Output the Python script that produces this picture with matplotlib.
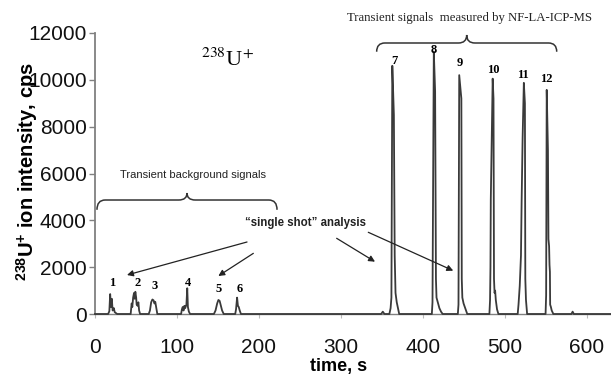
import matplotlib
matplotlib.use('Agg')
import matplotlib.pyplot as plt
from matplotlib.path import Path
from matplotlib.patches import PathPatch

# Sinal transiente de 238U+ (tempo em s, intensidade em cps)
tempo = [
    0, 16, 17.5, 18.5, 19.5, 20.5, 21.5, 23, 24, 27,
    43.5, 44.7, 45.5, 46.5, 47.6, 48.4, 49.2, 50.2, 50.8, 52, 52.9, 53.8, 55,
    65.5, 67, 68.5, 70, 71.5, 72.5, 73.5, 74.5, 76,
    105, 106, 107, 108, 109, 110, 111.5, 112.5, 113.3, 114.5, 116,
    145, 147, 149, 150.5, 152, 153.5, 155, 157,
    171, 172, 173.3, 174.3, 175.3, 176.5, 178,
    349, 351, 353,
    359, 360.5, 361.5, 362.6, 364.5, 365.5, 366.5, 368, 369.5, 371,
    410.8, 411.6, 413.2, 414.8, 415.8, 416.5, 418, 420, 422, 424,
    442.5, 443.3, 444.2, 446.8, 447.3, 448, 449.5, 451, 452.5, 454,
    481, 481.8, 482.3, 482.7, 483.9, 485, 486, 486.6, 487.3, 488, 488.8, 490.3, 492,
    515.5, 516.5, 518, 519.5, 520.3, 521.5, 523, 524.3, 524.8, 525.6, 527,
    549.5, 550.2, 550.9, 552.4, 553, 553.8, 554.3, 554.8, 555.1, 556, 557, 559,
    581, 582.5, 584,
    629,
]
intensidade = [
    0, 0, 120, 850, 300, 650, 150, 250, 80, 0,
    0, 450, 300, 700, 900, 650, 950, 700, 400, 350, 500, 150, 0,
    0, 150, 500, 620, 580, 450, 520, 300, 0,
    0, 200, 300, 150, 350, 250, 400, 1100, 300, 100, 0,
    0, 150, 450, 600, 560, 350, 150, 0,
    0, 200, 700, 350, 300, 150, 0,
    0, 100, 0,
    0, 250, 700, 10600, 8500, 2500, 900, 500, 250, 0,
    0, 500, 11200, 9500, 1500, 700, 500, 250, 100, 0,
    0, 400, 10200, 9200, 1500, 700, 450, 300, 150, 0,
    0, 600, 2000, 4900, 7700, 10050, 9200, 1500, 900, 1000, 600, 200, 0,
    0, 400, 1200, 2500, 4800, 7500, 9870, 9000, 1500, 600, 0,
    0, 800, 9570, 7000, 3200, 2900, 2100, 1800, 400, 300, 150, 0,
    0, 100, 0,
    0,
]

# Numeros dos picos e posicao dos rotulos
rotulos = ['1', '2', '3', '4', '5', '6', '7', '8', '9', '10', '11', '12']
rot_x = [20.4, 51.5, 73.2, 113, 150.4, 176, 364.6, 413.4, 445.1, 485.8, 522.3, 550.9]
rot_y = [1337, 1309, 1196, 1309, 1054, 1054, 10817, 11272, 10706, 10420, 10206, 10020]

xticks = [0, 100, 200, 300, 400, 500, 600]
yticks = [0, 2000, 4000, 6000, 8000, 10000, 12000]

plt.rcParams['font.family'] = ['Liberation Sans', 'DejaVu Sans']
plt.rcParams['mathtext.fontset'] = 'custom'
plt.rcParams['mathtext.rm'] = 'Liberation Sans:bold'
plt.rcParams['mathtext.bf'] = 'Liberation Sans:bold'
plt.rcParams['mathtext.it'] = 'Liberation Sans:bold'

COR = '#3a3a3a'
SERIF = 'Liberation Serif'


def chave(ax, x0, x1, y_linha, y_ponta, y_fim, r):
    # desenha uma chave horizontal "{" deitada
    xm = (x0 + x1) / 2
    verts = [
        (x0, y_fim), (x0, y_linha), (x0 + r, y_linha),
        (xm - r, y_linha),
        (xm, y_linha), (xm, y_ponta),
        (xm, y_linha), (xm + r, y_linha),
        (x1 - r, y_linha),
        (x1, y_linha), (x1, y_fim),
    ]
    codes = [Path.MOVETO, Path.CURVE3, Path.CURVE3, Path.LINETO,
             Path.CURVE3, Path.CURVE3, Path.CURVE3, Path.CURVE3,
             Path.LINETO, Path.CURVE3, Path.CURVE3]
    ax.add_patch(PathPatch(Path(verts, codes), fill=False, color='#333333',
                           lw=1.1, clip_on=False))


fig = plt.figure(figsize=(6.11, 3.82), dpi=100)
ax = fig.add_axes([95 / 611, 1 - 314 / 382, 516 / 611, 281 / 382])

ax.plot(tempo, intensidade, color=COR, lw=1.3, clip_on=False, zorder=3)

ax.set_xlim(0, 629.3)
ax.set_ylim(0, 12000)
ax.set_xticks(xticks)
ax.set_yticks(yticks)
for lado in ['top', 'right']:
    ax.spines[lado].set_visible(False)
ax.spines['left'].set_color('#808080')
ax.spines['left'].set_linewidth(1.3)
ax.spines['bottom'].set_color('#808080')
ax.spines['bottom'].set_linewidth(1.0)
ax.tick_params(axis='y', direction='out', length=4, width=1, color='#808080',
               labelsize=15, pad=2, labelcolor='#111111')
ax.tick_params(axis='x', direction='out', length=3, width=0.8, color='#bbbbbb',
               labelsize=15, pad=14, labelcolor='#111111')

fig.text(27 / 611, 1 - 172 / 382, r'$^{238}$U$^{+}$ ion intensity, cps',
         rotation=90, ha='center', va='center', fontsize=14.5,
         fontweight='bold', math_fontfamily='custom')
fig.text(339 / 611, 1 - 366 / 382, 'time, s', ha='center', va='center',
         fontsize=13, fontweight='bold')

# rotulo do isotopo
ax.text(162, 10850, r'$^{238}$U$^{+}$', ha='center', va='center',
        fontsize=16, family=SERIF, math_fontfamily='stix')

# numeros dos picos
for r, x, y in zip(rotulos, rot_x, rot_y):
    ax.text(x, y, r, ha='center', va='center', fontsize=9,
            fontweight='bold', family=SERIF)

# chaves e textos
ax.text(119.5, 5936, 'Transient background signals', ha='center',
        va='center', fontsize=8, color='#222222')
chave(ax, 2.4, 222, 4868, 5167, 4450, 10)

ax.text(457, 12628, 'Transient signals  measured by NF-LA-ICP-MS',
        ha='center', va='center', fontsize=9.2, family=SERIF, color='#222222')
chave(ax, 343.5, 563.1, 11573, 11915, 11200, 10)

ax.text(257, 3873, '\u201csingle shot\u201d analysis', ha='center',
        va='center', fontsize=8.3, fontweight='bold', color='#222222')

setas = [((185.4, 3075), (39.0, 1665)),
         ((193.1, 2590), (150.4, 1623)),
         ((294.7, 3233), (341.5, 2233)),
         ((333.3, 3489), (436.9, 1850))]
for ini, fim in setas:
    ax.annotate('', xy=fim, xytext=ini,
                arrowprops=dict(arrowstyle='-|>', lw=0.9, color='#222222',
                                mutation_scale=9, shrinkA=0, shrinkB=0))

fig.savefig('out.png', dpi=100)
